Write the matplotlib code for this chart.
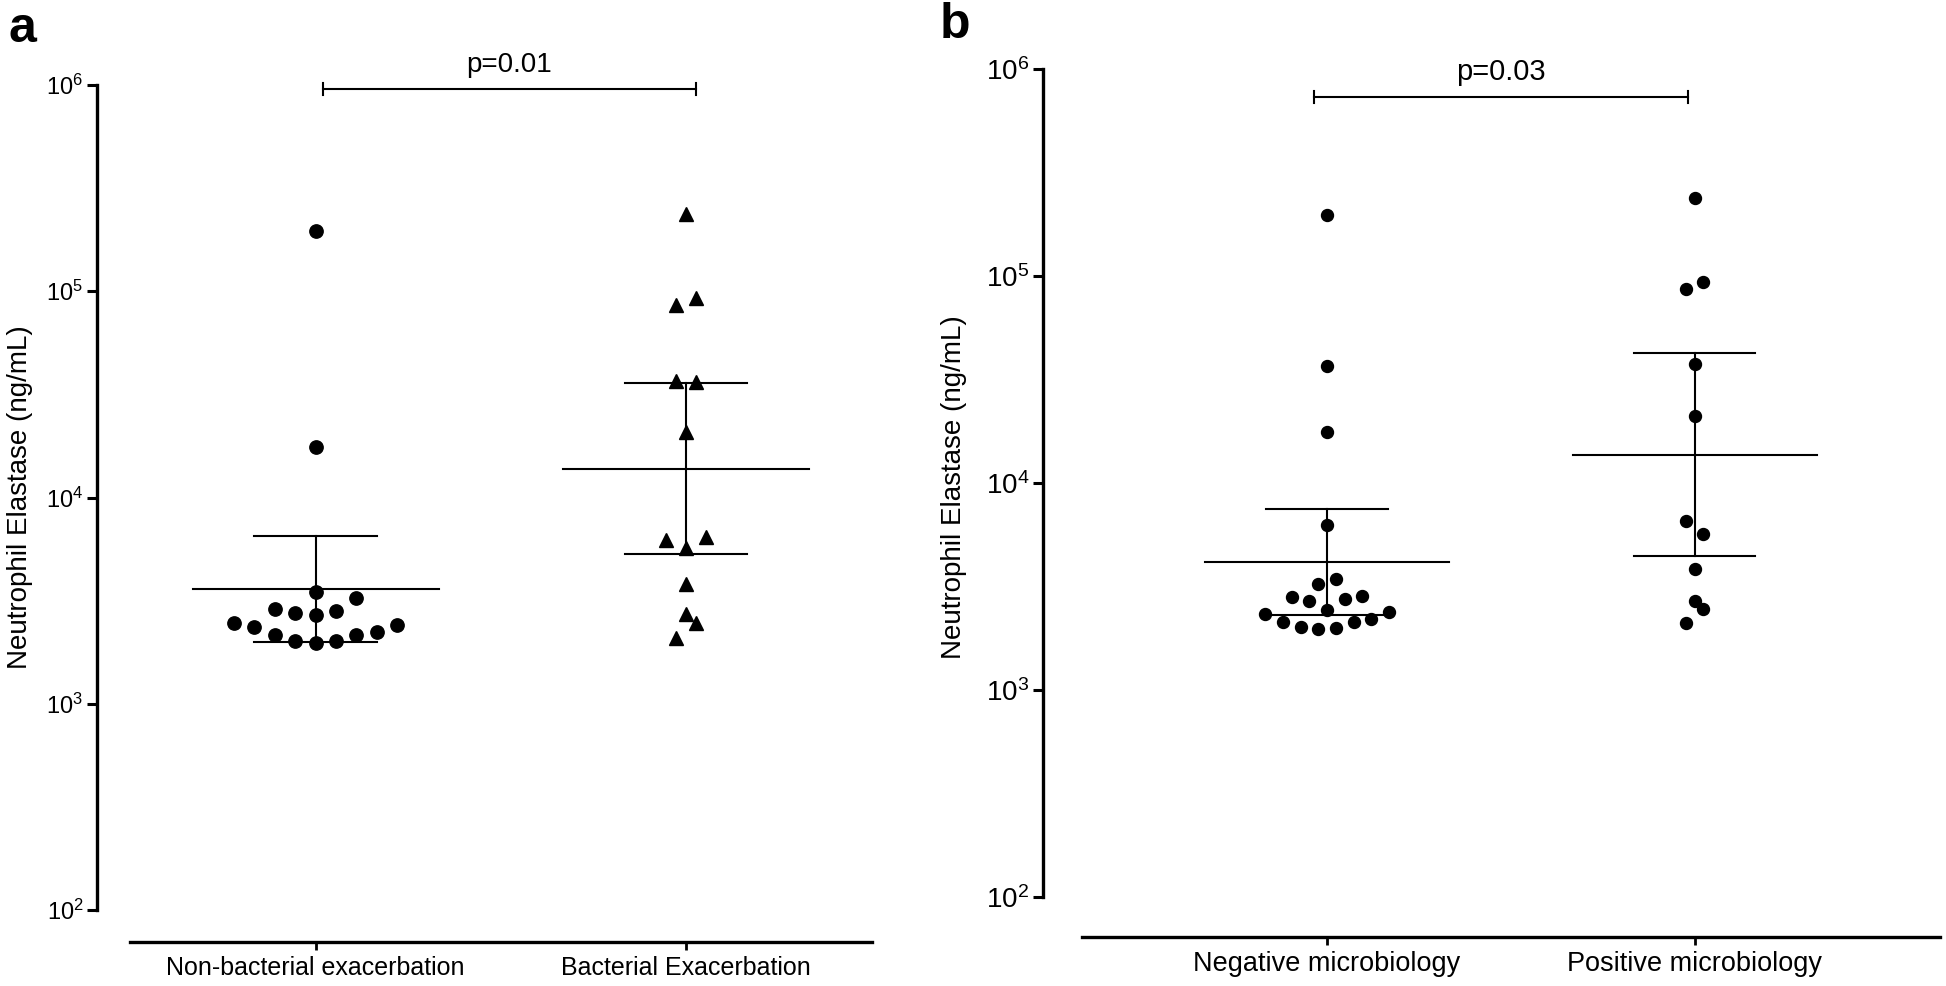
import matplotlib
matplotlib.use("Agg")
import matplotlib.pyplot as plt
from matplotlib.ticker import NullLocator, FixedLocator

plt.rcParams['font.family'] = ['Liberation Sans', 'DejaVu Sans']

# ---- panel a data ----
a_groups = ["Non-bacterial exacerbation", "Bacterial Exacerbation"]
a_nonbact = [196000, 17500, 3490, 3270, 2870, 2755, 2690, 2825, 2470,
             2357, 2147, 2022, 1977, 2014, 2147, 2220, 2400]
a_nonbact_slot = [0, 0, 0, 2, -2, -1, 0, 1, -4, -3, -2, -1, 0, 1, 2, 3, 4]
a_bact = [236000, 85900, 92300, 36900, 36200, 20800, 6190, 6470, 5700,
          3820, 2720, 2450, 2080]
a_bact_slot = [0, -0.5, 0.5, -0.5, 0.5, 0, -1, 1, 0, 0, 0, 0.5, -0.5]
a_mean = [3590, 13700]
a_upper = [6500, 36000]
a_lower = [1986, 5310]
a_pval = "p=0.01"

# ---- panel b data ----
b_groups = ["Negative microbiology", "Positive microbiology"]
b_neg = [198000, 36700, 17600, 6270, 3250, 3450, 2805, 2693, 2740, 2845,
         2445, 2340, 2383, 2132, 2011, 1965, 2000, 2132, 2210]
b_neg_slot = [0, 0, 0, 0, -0.5, 0.5, -2, -1, 1, 2, 0, -3.5, 3.5, -2.5,
              -1.5, -0.5, 0.5, 1.5, 2.5]
b_pos = [239000, 94000, 87000, 37500, 21100, 6540, 5690, 3840, 2700, 2450, 2100]
b_pos_slot = [0, 0.5, -0.5, 0, 0, -0.5, 0.5, 0, 0, 0.5, -0.5]
b_mean = [4160, 13700]
b_upper = [7480, 42500]
b_lower = [2315, 4420]
b_pval = "p=0.03"

fig = plt.figure(figsize=(19.46, 9.86), dpi=100)


def draw_panel(ax, groups, series, slots, markers, spacing, sizes,
               means, uppers, lowers, xbound, ylo, pval, bracket,
               tick_fs, lab_fs, ylab_fs, p_fs):
    for i, (vals, sl, mk, ms) in enumerate(zip(series, slots, markers, sizes)):
        xs = [i + s * spacing for s in sl]
        ax.plot(xs, vals, linestyle='none', marker=mk, ms=ms, color='black',
                zorder=3, clip_on=False)
        ax.plot([i - 0.332, i + 0.332], [means[i]] * 2, color='black', lw=1.5, zorder=2)
        ax.plot([i, i], [lowers[i], uppers[i]], color='black', lw=1.5, zorder=2)
        for v in (lowers[i], uppers[i]):
            ax.plot([i - 0.165, i + 0.165], [v, v], color='black', lw=1.5, zorder=2)

    # significance bracket
    x0, x1, yb, yt = bracket
    ax.plot([x0, x1], [yb, yb], color='black', lw=1.5, clip_on=False)
    for xx in (x0, x1):
        ax.plot([xx, xx], [yb / 1.07, yb * 1.07], color='black', lw=1.5, clip_on=False)
    ax.text((x0 + x1) / 2, yt, pval, ha='center', va='center', fontsize=p_fs,
            clip_on=False)

    ax.set_yscale('log')
    ax.set_ylim(ylo, 1e6)
    ax.set_xlim(xbound[2], xbound[1])
    ax.yaxis.set_major_locator(FixedLocator([1e2, 1e3, 1e4, 1e5, 1e6]))
    ax.yaxis.set_minor_locator(NullLocator())
    ax.set_xticks([0, 1])
    ax.set_xticklabels(groups, fontsize=lab_fs)
    for s in ('top', 'right'):
        ax.spines[s].set_visible(False)
    ax.spines['left'].set_bounds(1e2, 1e6)
    ax.spines['bottom'].set_bounds(xbound[0], xbound[1])
    ax.spines['left'].set_linewidth(2.4)
    ax.spines['bottom'].set_linewidth(2.4)
    ax.tick_params(axis='y', length=7, width=2.2, pad=3, labelsize=tick_fs)
    ax.tick_params(axis='x', length=6, width=2.0, pad=4)
    ax.set_ylabel("Neutrophil Elastase (ng/mL)", fontsize=ylab_fs)


# panel a
ax_a = fig.add_axes([0.05, 0.04462, 0.3981, 0.8692])
draw_panel(ax_a, a_groups, [a_nonbact, a_bact], [a_nonbact_slot, a_bact_slot],
           ['o', '^'], 0.055, [9.6, 10.5], a_mean, a_upper, a_lower,
           (-0.5, 1.502, -0.589), 10 ** 1.845, a_pval,
           (0.02, 1.027, 10 ** 5.979, 10 ** 6.098), 17, 18, 20, 20)
ax_a.yaxis.set_label_coords(-0.083, 0.519)

# panel b
ax_b = fig.add_axes([0.536, 0.0497, 0.4609, 0.8803])
draw_panel(ax_b, b_groups, [b_neg, b_pos], [b_neg_slot, b_pos_slot],
           ['o', 'o'], 0.048, [8.6, 8.6], b_mean, b_upper, b_lower,
           (-0.668, 1.668, -0.773), 10 ** 1.807, b_pval,
           (-0.035, 0.982, 10 ** 5.863, 10 ** 5.985), 20, 19.5, 20, 21)
ax_b.yaxis.set_label_coords(-0.085, 0.518)

fig.text(8 / 1946, 1 - 6 / 986, "a", fontsize=36, fontweight='bold', va='top', ha='left')
fig.text(940 / 1946, 1 - 2 / 986, "b", fontsize=36, fontweight='bold', va='top', ha='left')

fig.savefig("out.png", dpi=100)
